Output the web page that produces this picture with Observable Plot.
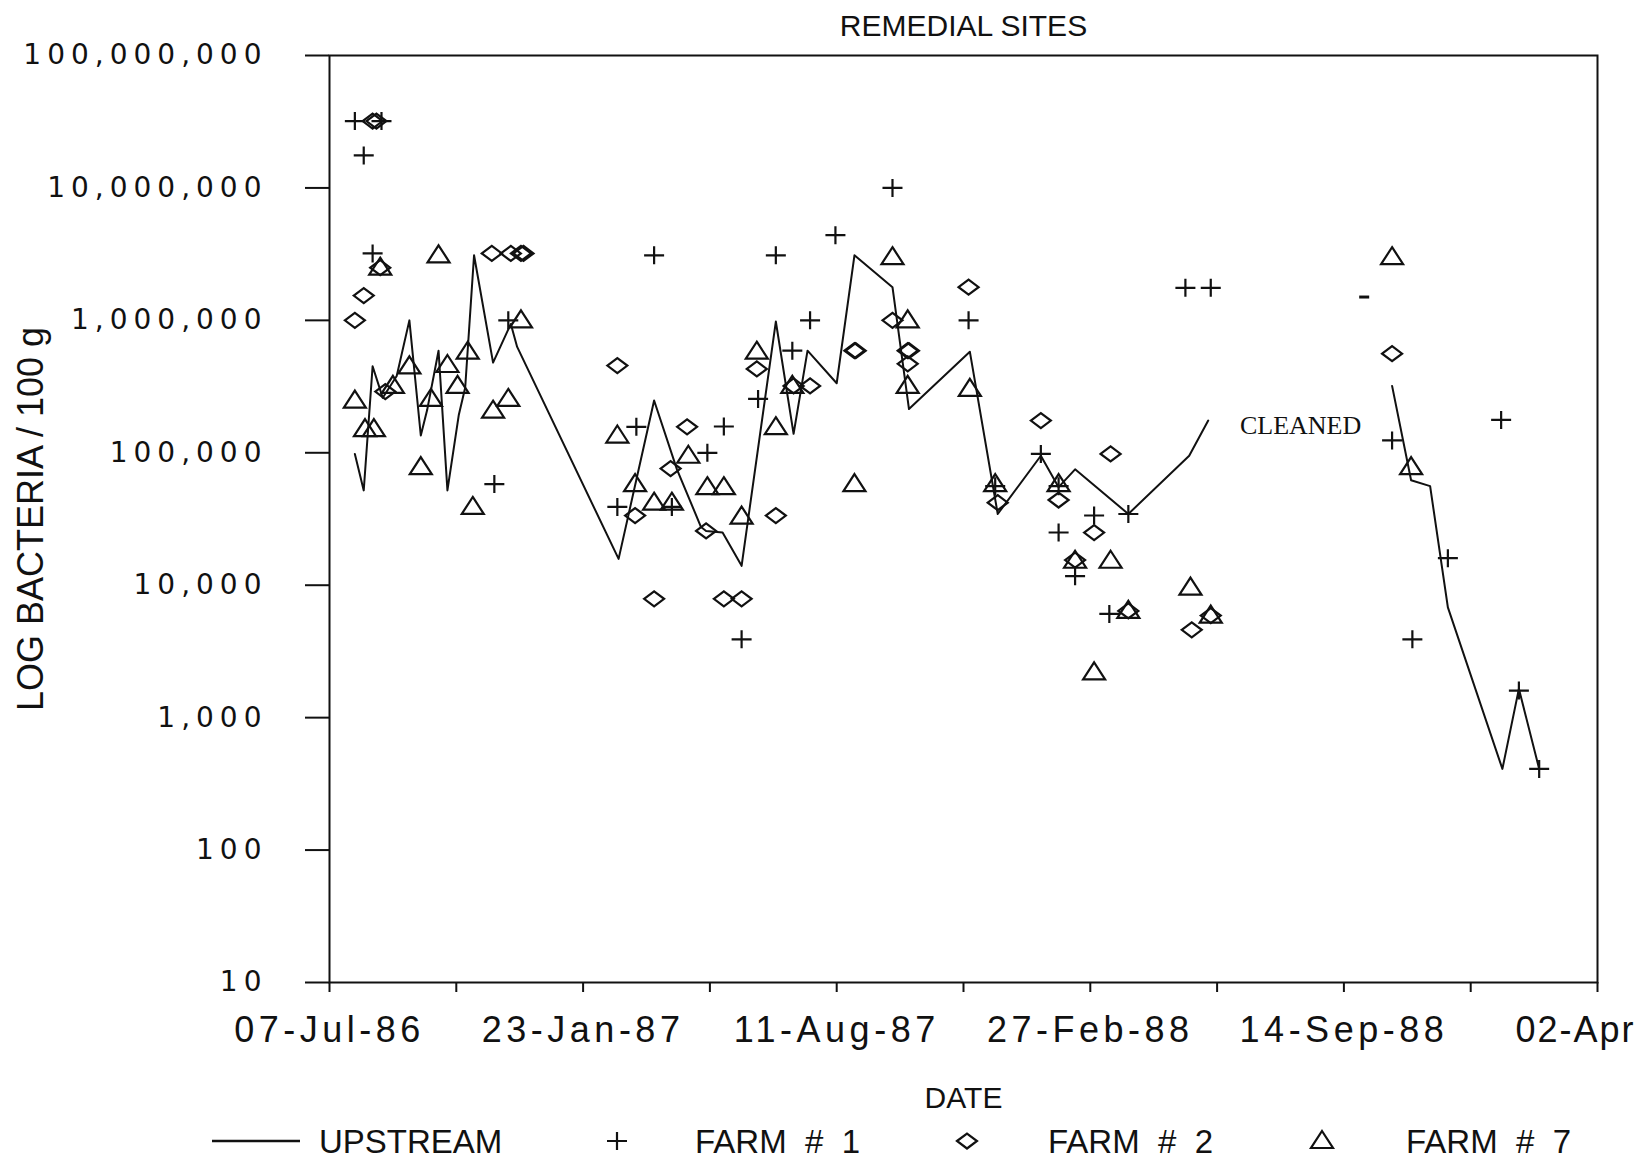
<!DOCTYPE html>
<html>
<head>
<meta charset="utf-8">
<script src="https://cdn.jsdelivr.net/npm/d3@7"></script>
<script src="https://cdn.jsdelivr.net/npm/@observablehq/plot@0.6"></script>
<style>
  html, body { margin: 0; padding: 0; background: #fff; overflow: hidden; }
  #chart svg { display: block; }
  #chart g[aria-label="y-axis tick label"] text { letter-spacing: 6px; }
  #chart g[aria-label="x-axis tick label"] text { letter-spacing: 4.5px; }
  #legend svg { display: block; }
</style>
</head>
<body>
<div id="chart"></div>
<div id="legend"></div>
<script>
// ---------------- DATA ----------------
const chartTitle = "REMEDIAL SITES";
const xTitle = "DATE";
const yTitle = "LOG BACTERIA / 100 g";

const xTickDates = ["1986-07-07","1986-10-15","1987-01-23","1987-05-03","1987-08-11","1987-11-19",
                    "1988-02-27","1988-06-06","1988-09-14","1988-12-23","1989-04-02"];
const xTickLabels = ["07-Jul-86","","23-Jan-87","","11-Aug-87","","27-Feb-88","","14-Sep-88","","02-Apr"];
const yTicks = [10, 100, 1000, 10000, 100000, 1000000, 10000000, 100000000];

const seriesNames = ["UPSTREAM", "FARM  #  1", "FARM  #  2", "FARM  #  7"];

const upstreamDates = ["1986-07-27","1986-08-03","1986-08-10","1986-08-18","1986-08-29","1986-09-08",
  "1986-09-17","1986-09-22","1986-10-01","1986-10-08","1986-10-17","1986-10-22","1986-10-29",
  "1986-11-13","1986-11-27","1986-12-02","1987-02-20","1987-03-20","1987-04-07","1987-04-26",
  "1987-04-30","1987-05-13","1987-05-28","1987-06-24","1987-07-08","1987-07-19","1987-08-11",
  "1987-08-25","1987-09-24","1987-10-07","1987-11-24","1987-12-16","1988-01-19","1988-02-02",
  "1988-02-15","1988-03-28","1988-05-15","1988-05-30","1988-08-01","1988-10-22","1988-11-06",
  "1988-11-21","1988-12-05","1989-01-17","1989-01-30","1989-02-15"];
const upstreamValues = [98000,52000,450000,260000,380000,1000000,
  135000,210000,590000,52000,194000,310000,3100000,
  480000,940000,630000,15800,248000,75000,27500,
  25700,25000,14000,980000,139000,590000,335000,
  3100000,1780000,214000,580000,34500,95000,55000,
  75000,34500,95000,175000,NaN,320000,62000,
  56000,6800,410,1650,410];

const farm1Dates = ["1986-07-27","1986-08-03","1986-08-17","1986-08-10","1986-11-25","1986-11-14",
  "1987-02-19","1987-03-06","1987-03-20","1987-04-03","1987-05-01","1987-05-14","1987-05-28",
  "1987-06-10","1987-06-24","1987-07-07","1987-07-21","1987-08-10","1987-09-24","1987-11-23",
  "1987-12-14","1988-01-19","1988-02-02","1988-02-02","1988-02-15","1988-03-01","1988-03-13",
  "1988-03-28","1988-05-12","1988-06-01","1988-10-22","1988-11-07","1988-12-05","1989-01-16",
  "1989-01-30","1989-02-15"];
const farm1Values = [32000000,17600000,32000000,3200000,1000000,58000,
  39000,157000,3100000,39000,100000,158000,3900,
  255000,3100000,590000,1000000,4400000,10000000,1000000,
  56000,98000,25000,56000,11700,33600,6070,
  34500,1760000,1760000,124000,3900,16000,177000,
  1600,410];

const farm2Dates = ["1986-08-10","1986-08-13","1986-08-16","1986-08-03","1986-07-27","1986-08-20",
  "1986-11-12","1986-11-27","1986-12-05","1986-12-07","1987-02-19","1987-03-05","1987-03-20",
  "1987-04-02","1987-04-15","1987-04-30","1987-05-14","1987-05-28","1987-06-09","1987-06-24",
  "1987-07-08","1987-07-21","1987-08-25","1987-08-26","1987-09-24","1987-10-06","1987-10-07",
  "1987-10-06","1987-11-23","1987-12-16","1988-01-19","1988-02-02","1988-02-15","1988-03-01",
  "1988-03-14","1988-03-28","1988-05-17","1988-06-01","1988-10-22"];
const farm2Values = [32000000,32000000,2500000,1540000,1000000,290000,
  3200000,3200000,3200000,3200000,456000,33600,7900,
  76000,157000,25700,7900,7900,430000,33600,
  320000,320000,590000,590000,1000000,590000,590000,
  470000,1780000,42000,175000,44000,15500,25000,
  98000,6400,4600,5900,560000];

const farm7Dates = ["1986-07-27","1986-08-04","1986-08-11","1986-08-16","1986-08-26","1986-09-08",
  "1986-09-17","1986-09-25","1986-10-01","1986-10-08","1986-10-16","1986-10-24","1986-10-28",
  "1986-11-13","1986-11-25","1986-12-05","1987-02-19","1987-03-05","1987-03-20","1987-04-03",
  "1987-04-16","1987-05-01","1987-05-14","1987-05-28","1987-06-09","1987-06-24","1987-07-07",
  "1987-08-25","1987-09-24","1987-10-06","1987-10-06","1987-11-24","1987-12-14","1988-02-02",
  "1988-02-15","1988-03-01","1988-03-14","1988-03-28","1988-05-16","1988-06-01","1988-10-22",
  "1988-11-06"];
const farm7Values = [248000,151000,151000,2500000,320000,450000,
  78000,255000,3100000,460000,320000,580000,39000,
  208000,255000,1000000,135000,58000,42000,42000,
  95000,55000,55000,33000,580000,156000,320000,
  58000,3000000,1000000,320000,304000,58000,58000,
  15300,2200,15300,6400,9600,5900,3000000,
  78000];

const strayDates = ["1988-09-30"];
const strayValues = [1500000];

const noteText = ["CLEANED"];
const noteDates = ["1988-06-24"];
const noteValues = [160000];

// ---------------- BUILD ----------------
const parse = d3.utcParse("%Y-%m-%d");
const rows = (dates, values) => dates.map((d, i) => ({date: parse(d), value: values[i]}));
const upstream = rows(upstreamDates, upstreamValues);
const farm1 = rows(farm1Dates, farm1Values);
const farm2 = rows(farm2Dates, farm2Values);
const farm7 = rows(farm7Dates, farm7Values);
const stray = rows(strayDates, strayValues);
const notes = noteText.map((t, i) => ({text: t, date: parse(noteDates[i]), value: noteValues[i]}));

const xTicks = xTickDates.map(parse);
const xLabelMap = new Map(xTicks.map((d, i) => [+d, xTickLabels[i]]));

const plusSym = {draw(c) { c.moveTo(-10, 0); c.lineTo(10, 0); c.moveTo(0, -9); c.lineTo(0, 9); }};
const diamondSym = {draw(c) { c.moveTo(-10, 0); c.lineTo(0, -7.5); c.lineTo(10, 0); c.lineTo(0, 7.5); c.closePath(); }};
const triangleSym = {draw(c) { c.moveTo(0, -10); c.lineTo(11, 7); c.lineTo(-11, 7); c.closePath(); }};
const dashSym = {draw(c) { c.moveTo(-5, 0); c.lineTo(5, 0); }};

const sans = '"Liberation Sans", Arial, Helvetica, sans-serif';

const chart = Plot.plot({
  width: 1639,
  height: 1120,
  marginTop: 55,
  marginBottom: 138,
  marginLeft: 329,
  marginRight: 42,
  style: {fontFamily: sans, color: "#111", background: "#fff"},
  x: {type: "utc", domain: [parse("1986-07-07"), parse("1989-04-02")]},
  y: {type: "log", domain: [10, 100000000]},
  marks: [
    Plot.frame({stroke: "#111", strokeWidth: 2}),
    Plot.axisY({ticks: yTicks, tickSize: 24, tickPadding: 38, tickFormat: d3.format(","),
                strokeWidth: 2, fontSize: 28, fontFamily: '"DejaVu Sans", sans-serif', label: null}),
    Plot.axisX({ticks: xTicks, tickSize: 10, tickPadding: 24, tickFormat: d => xLabelMap.get(+d),
                strokeWidth: 2, fontSize: 36, fontFamily: sans, label: null}),
    Plot.line(upstream, {x: "date", y: "value", stroke: "#111", strokeWidth: 2}),
    Plot.dot(farm1, {x: "date", y: "value", symbol: plusSym, stroke: "#111", fill: "none", strokeWidth: 2.2}),
    Plot.dot(farm2, {x: "date", y: "value", symbol: diamondSym, stroke: "#111", fill: "none", strokeWidth: 2.2}),
    Plot.dot(farm7, {x: "date", y: "value", symbol: triangleSym, stroke: "#111", fill: "none", strokeWidth: 2.2}),
    Plot.dot(stray, {x: "date", y: "value", symbol: dashSym, stroke: "#111", fill: "none", strokeWidth: 3}),
    Plot.text(notes, {x: "date", y: "value", text: "text", textAnchor: "start", fontSize: 26,
                      fontFamily: '"Liberation Serif", "Times New Roman", serif', fill: "#111"}),
    Plot.text([chartTitle], {text: d => d, frameAnchor: "top", dy: -29, lineAnchor: "middle",
                             fontSize: 30, fill: "#111"}),
    Plot.text([xTitle], {text: d => d, frameAnchor: "bottom", dy: 125, fontSize: 30, fill: "#111"}),
    Plot.text([yTitle], {text: d => d, frameAnchor: "left", dx: -298, rotate: -90,
                         textAnchor: "middle", lineAnchor: "middle", fontSize: 36, fill: "#111"})
  ]
});
document.getElementById("chart").appendChild(chart);

// last date label is flush against the right edge, as in the original
d3.select(chart).selectAll('g[aria-label="x-axis tick label"] text')
  .filter(function() { return this.textContent === xTickLabels[xTickLabels.length - 1]; })
  .attr("text-anchor", "end").attr("dx", 38).style("letter-spacing", "2px");

// ---------------- LEGEND ----------------
const lg = d3.create("svg").attr("width", 1639).attr("height", 45)
  .style("font-family", sans).style("background", "#fff");
const cy = 21;
lg.append("line").attr("x1", 212).attr("x2", 300).attr("y1", cy).attr("y2", cy)
  .attr("stroke", "#111").attr("stroke-width", 2.5);
const symPath = (sym) => { const p = d3.path(); sym.draw(p); return p.toString(); };
const legendItems = [
  {sym: null, tx: 319},
  {sym: plusSym, sx: 617, tx: 695},
  {sym: diamondSym, sx: 967, tx: 1048},
  {sym: triangleSym, sx: 1322, tx: 1406}
];
legendItems.forEach((it, i) => {
  if (it.sym) {
    lg.append("path").attr("d", symPath(it.sym)).attr("transform", `translate(${it.sx},${cy})`)
      .attr("fill", "none").attr("stroke", "#111").attr("stroke-width", 2.2);
  }
  lg.append("text").attr("x", it.tx).attr("y", cy).attr("dy", "0.35em")
    .attr("font-size", 33).attr("fill", "#111").style("white-space", "pre")
    .text(seriesNames[i]);
});
document.getElementById("legend").appendChild(lg.node());
</script>
</body>
</html>
